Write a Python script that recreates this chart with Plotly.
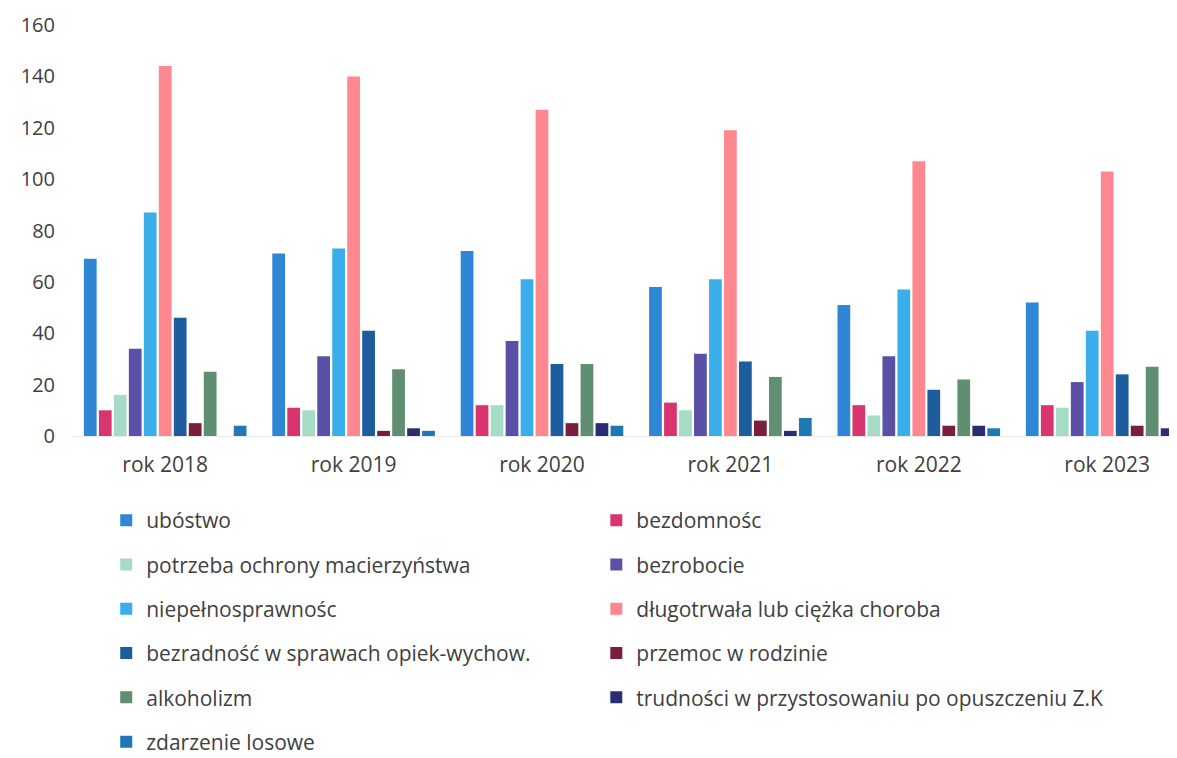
import plotly.graph_objects as go

years = ["rok 2018", "rok 2019", "rok 2020", "rok 2021", "rok 2022", "rok 2023"]

ubostwo = [69, 71, 72, 58, 51, 52]
bezdomnosc = [10, 11, 12, 13, 12, 12]
potrzeba = [16, 10, 12, 10, 8, 11]
bezrobocie = [34, 31, 37, 32, 31, 21]
niepelnosprawnosc = [87, 73, 61, 61, 57, 41]
dlugotrwala = [144, 140, 127, 119, 107, 103]
bezradnosc = [46, 41, 28, 29, 18, 24]
przemoc = [5, 2, 5, 6, 4, 4]
alkoholizm = [25, 26, 28, 23, 22, 27]
trudnosci = [0, 3, 5, 2, 4, 3]
zdarzenie = [4, 2, 4, 7, 3, 1]

series = [
    ("ubóstwo", ubostwo, "#2E86D4", "legend"),
    ("bezdomnośc", bezdomnosc, "#D8356E", "legend2"),
    ("potrzeba ochrony macierzyństwa", potrzeba, "#A6DCC6", "legend"),
    ("bezrobocie", bezrobocie, "#5A50A8", "legend2"),
    ("niepełnosprawnośc", niepelnosprawnosc, "#3AAEEA", "legend"),
    ("długotrwała lub ciężka choroba", dlugotrwala, "#FF8890", "legend2"),
    ("bezradność w sprawach opiek-wychow.", bezradnosc, "#1D5D9E", "legend"),
    ("przemoc w rodzinie", przemoc, "#7B1E3E", "legend2"),
    ("alkoholizm", alkoholizm, "#5F8F70", "legend"),
    ("trudności w przystosowaniu po opuszczeniu Z.K", trudnosci, "#2A2E70", "legend2"),
    ("zdarzenie losowe", zdarzenie, "#1F78B6", "legend"),
]

fig = go.Figure()
for i, (name, vals, color, leg) in enumerate(series):
    fig.add_trace(go.Bar(
        x=years, y=vals, name=name,
        marker=dict(color=color, line=dict(width=0)),
        legend=leg, legendgroup=f"g{i}",
    ))

FONT = "Open Sans"
PLOT_L, PLOT_W = 70, 1107
legend_common = dict(
    orientation="v", font=dict(family=FONT, size=21, color="#404040"),
    tracegroupgap=14, bgcolor="rgba(0,0,0,0)", xref="paper", yref="container",
    xanchor="left", yanchor="top", itemclick=False,
)

fig.update_layout(
    width=1177, height=758,
    paper_bgcolor="white", plot_bgcolor="white",
    margin=dict(l=63, r=0, t=17, b=330),
    barmode="group", bargap=0.125, bargroupgap=0.15,
    font=dict(family=FONT, color="#404040"),
    showlegend=True,
    legend=dict(**legend_common, x=(105 - PLOT_L) / PLOT_W, y=1 - 492 / 758),
    legend2=dict(**legend_common, x=(592 - PLOT_L) / PLOT_W, y=1 - 492 / 758),
    xaxis=dict(
        range=[-0.5, 5.413], showgrid=False, showline=False, zeroline=False,
        ticks="", tickfont=dict(family=FONT, size=21, color="#404040"),
        ticklabelstandoff=14, automargin=False,
    ),
    yaxis=dict(
        range=[0, 160], dtick=20, showgrid=False, showline=False,
        zeroline=True, zerolinecolor="#ececec", zerolinewidth=1,
        tickfont=dict(family=FONT, size=20, color="#404040"),
        ticklabelstandoff=15, automargin=False,
    ),
)

fig.write_html("out.html")
